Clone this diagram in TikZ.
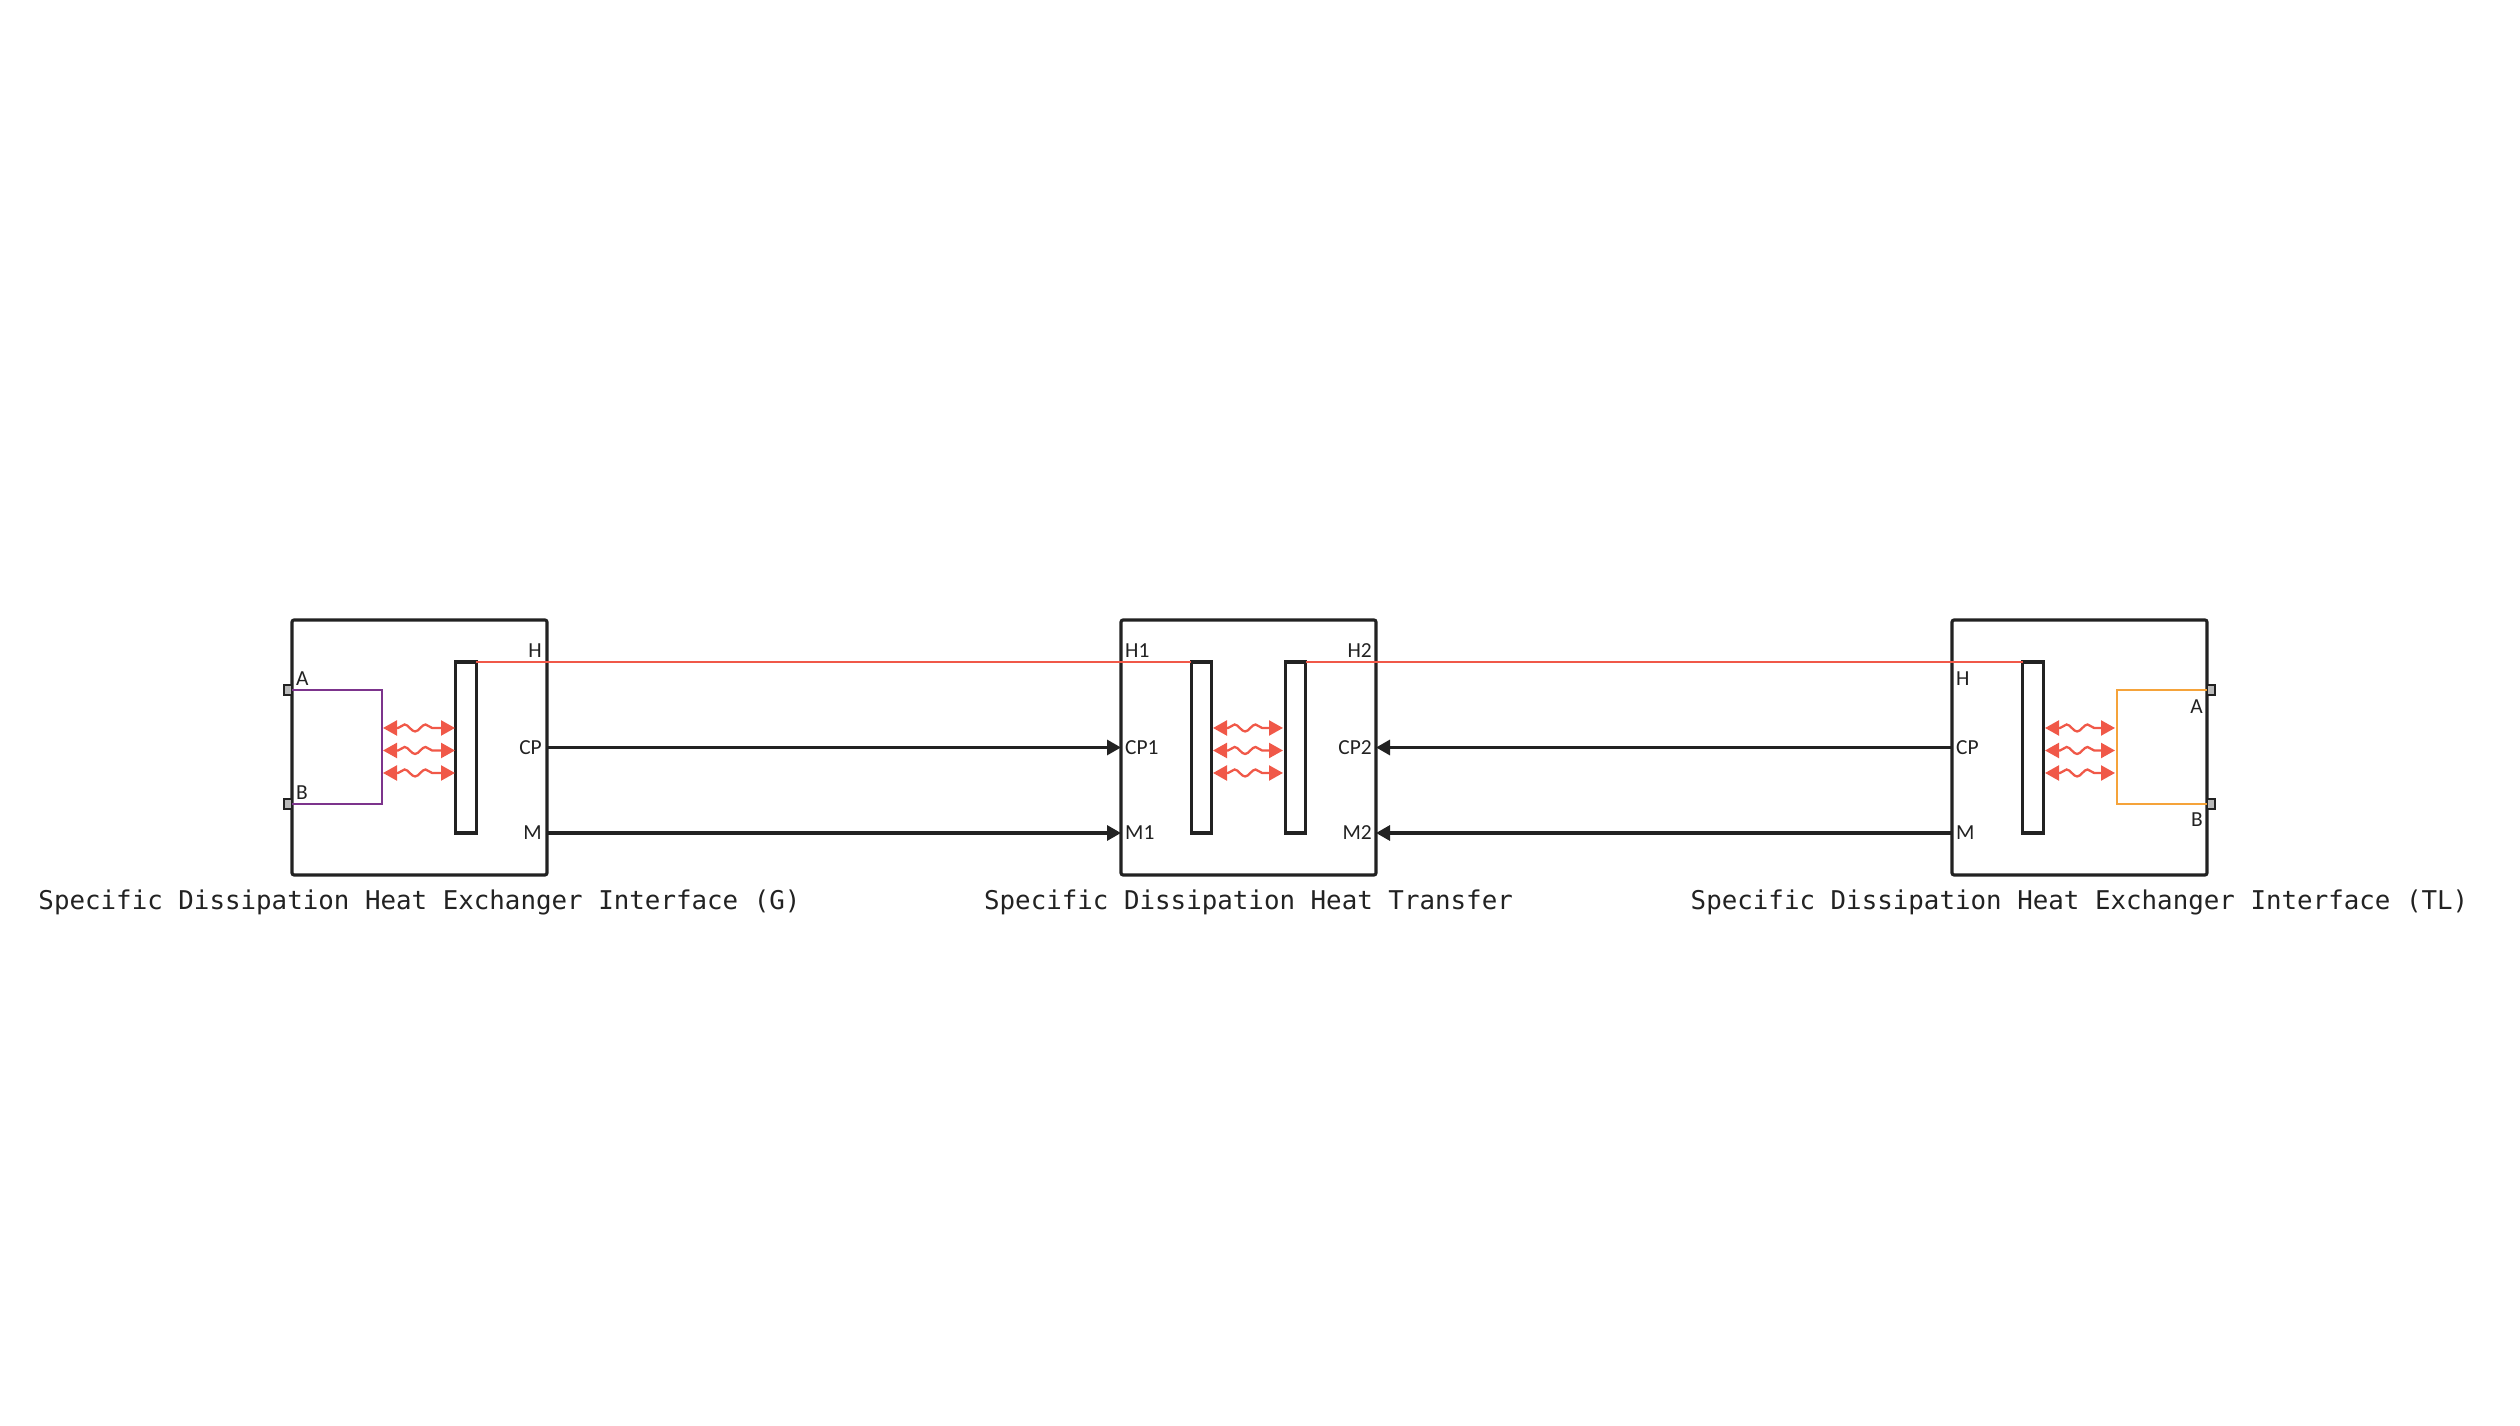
\documentclass[tikz,border=0pt]{standalone}
\usepackage{fontspec}
\usetikzlibrary{arrows.meta,decorations.pathmorphing}
\newfontfamily\portfont{Carlito}
\newfontfamily\titlefont{DejaVu Sans Mono}
\definecolor{ink}{RGB}{34,34,34}
\definecolor{heat}{RGB}{240,88,72}
\definecolor{gas}{RGB}{124,52,140}
\definecolor{liquid}{RGB}{245,163,58}
\tikzset{
  blk/.style={draw=ink, line width=0.9pt, rounded corners=0.6pt, minimum width=2.55cm,
    minimum height=2.55cm, inner sep=0pt, outer sep=0pt},
  wall/.style={draw=ink, fill=white, line width=0.9pt, minimum width=0.205cm,
    minimum height=1.71cm, inner sep=0pt, outer sep=0pt},
  port/.style={draw=ink, fill=gray!55, line width=0.5pt, minimum width=0.08cm,
    minimum height=0.1cm, inner sep=0pt, outer sep=0pt},
  lbl/.style={font={\portfont\fontsize{6.1}{7}\selectfont}, text=ink, inner sep=1pt},
  ttl/.style={font={\titlefont\fontsize{7.35}{9}\selectfont}, text=ink, inner sep=0pt},
  sig/.style={draw=ink, line width=0.9pt, -{Triangle[length=0.14cm,width=0.15cm]}},
  wave/.style={heat, line width=0.65pt, {Triangle[length=0.14cm,width=0.15cm]}-{Triangle[length=0.14cm,width=0.15cm]},
    decorate, decoration={snake, amplitude=0.035cm, segment length=0.21cm,
    pre length=0.15cm, post length=0.15cm}}
}
\begin{document}
\begin{tikzpicture}
      \useasboundingbox (0,0) rectangle (25.2,14.26);
      % blocks
      \node[blk] (G) at (4.195,6.785) {};
      \node[blk] (T) at (12.485,6.785) {};
      \node[blk] (L) at (20.795,6.785) {};
      \node[wall] (wG) at (4.66,6.785) {};
      \node[wall] (wT1) at (12.015,6.785) {};
      \node[wall] (wT2) at (12.955,6.785) {};
      \node[wall] (wL) at (20.33,6.785) {};
      % fluid ports
      \node[port] (Ga) at (2.88,7.36) {};
      \node[port] (Gb) at (2.88,6.22) {};
      \node[port] (La) at (22.11,7.36) {};
      \node[port] (Lb) at (22.11,6.22) {};
      \draw[gas, line width=0.75pt] (Ga.east) -- (3.82,7.36) -- (3.82,6.22) -- (Gb.east);
      \draw[liquid, line width=0.75pt] (La.west) -- (21.17,7.36) -- (21.17,6.22) -- (Lb.west);
      % heat flow
      \foreach \y in {6.98,6.755,6.53}{
        \draw[wave] (3.83,\y) -- (4.55,\y);
        \draw[wave] (12.13,\y) -- (12.83,\y);
        \draw[wave] (20.45,\y) -- (21.15,\y);
      }
      % connections
      \coordinate (Gm) at (5.47,5.93);
      \coordinate (Tm1) at (11.21,5.93);
      \coordinate (Tm2) at (13.76,5.93);
      \coordinate (Lm) at (19.52,5.93);
      \draw[heat, line width=0.65pt] (wG.north east) -- (wT1.north west);
      \draw[heat, line width=0.65pt] (wT2.north east) -- (wL.north west);
      \draw[sig] (G.east) -- (T.west);
      \draw[sig] (L.west) -- (T.east);
      \draw[sig] (Gm) -- (Tm1);
      \draw[sig] (Lm) -- (Tm2);
      % port labels
      \draw (2.92,7.36) node[lbl, anchor=south west]{A};
      \draw (2.92,6.22) node[lbl, anchor=south west]{B};
      \draw (5.46,7.64) node[lbl, anchor=south east]{H};
      \draw (5.46,6.785) node[lbl, anchor=east]{CP};
      \draw (5.46,5.93) node[lbl, anchor=east]{M};
      \draw (11.21,7.64) node[lbl, anchor=south west]{H1};
      \draw (11.21,6.785) node[lbl, anchor=west]{CP1};
      \draw (11.21,5.93) node[lbl, anchor=west]{M1};
      \draw (13.76,7.64) node[lbl, anchor=south east]{H2};
      \draw (13.76,6.785) node[lbl, anchor=east]{CP2};
      \draw (13.76,5.93) node[lbl, anchor=east]{M2};
      \draw (19.52,7.475) node[lbl, anchor=west]{H};
      \draw (19.52,6.785) node[lbl, anchor=west]{CP};
      \draw (19.52,5.93) node[lbl, anchor=west]{M};
      \draw (22.07,7.195) node[lbl, anchor=east]{A};
      \draw (22.07,6.06) node[lbl, anchor=east]{B};
      % titles
      \node[ttl, anchor=base] (tG) at (4.195,5.16) {Specific Dissipation Heat Exchanger Interface (G)};
      \node[ttl, anchor=base] (tT) at (12.485,5.16) {Specific Dissipation Heat Transfer};
      \node[ttl, anchor=base] (tL) at (20.795,5.16) {Specific Dissipation Heat Exchanger Interface (TL)};
\end{tikzpicture}
\end{document}
